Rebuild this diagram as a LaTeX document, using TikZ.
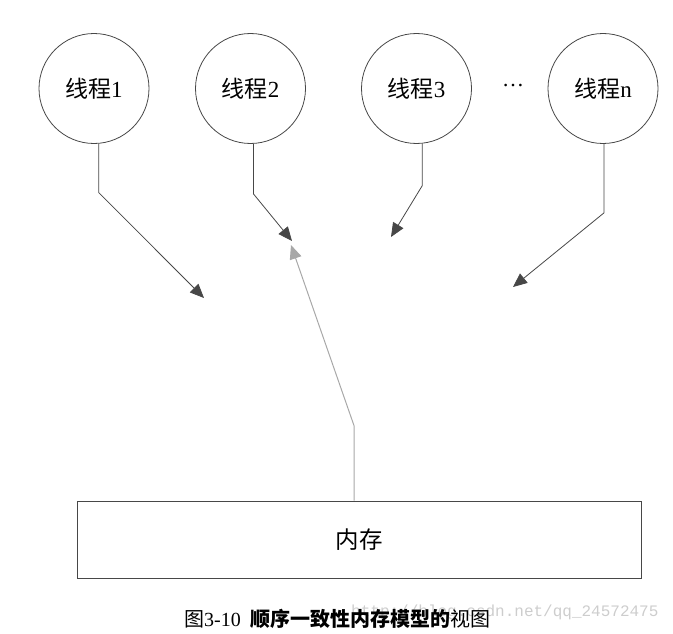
\documentclass[tikz,border=0pt]{standalone}
\usepackage{fontspec}
\setmainfont{Liberation Serif}
\setmonofont{Liberation Mono}
\newfontfamily\cjk{Noto Sans CJK SC}
\usetikzlibrary{arrows.meta}
\definecolor{linegray}{HTML}{474747}
\definecolor{memgray}{HTML}{A8A8A8}
\definecolor{markgray}{HTML}{CDCDCD}
\tikzstyle{thread}=[circle, draw=linegray, line width=0.8pt, minimum size=110pt, inner sep=0pt, font=\fontsize{23}{27}\selectfont]
\tikzstyle{memory}=[rectangle, draw=linegray, line width=0.8pt, minimum width=564pt, minimum height=77pt, font=\fontsize{23.5}{27}\selectfont]
\tikzstyle{access}=[draw=linegray, line width=0.8pt, -{Triangle[length=14pt, width=12pt]}]
\tikzstyle{reply}=[draw=memgray, line width=1pt, -{Triangle[length=14pt, width=12pt]}]

\begin{document}
\begin{tikzpicture}[x=1pt, y=-1pt]
\useasboundingbox (0,0) rectangle (673,634);
% Threads
    \node[thread] (t1) at (94,88.5) {{\cjk 线程}1};
    \node[thread] (t2) at (250.5,88.5) {{\cjk 线程}2};
    \node[thread] (t3) at (416.5,88.5) {{\cjk 线程}3};
    \node[font=\fontsize{22}{26}\selectfont] (dots) at (513,86) {…};
    \node[thread] (tn) at (603,88.5) {{\cjk 线程}n};
% Memory
    \node[memory] (mem) at (359,539.5) {\cjk 内存};
% Arrow tips
    \coordinate (e1) at (204,298);
    \coordinate (e2) at (292,241);
    \coordinate (e3) at (391,237);
    \coordinate (en) at (513,287);
    \coordinate (em) at (291,245);
% Threads to memory
    \draw[access] (t1.-85) -- ++(0,49) -- (e1);
    \draw[access] (t2.-87) -- ++(0,50) -- (e2);
    \draw[access] (t3.-84) -- ++(0,42) -- (e3);
    \draw[access] (tn.-89) -- ++(0,69) -- (en);
% Memory to thread 2
    \draw[reply] (mem.north) ++(-5,0) -- ++(0,-75) -- (em);
% Caption
    \node[anchor=east, text=markgray, font=\ttfamily\fontsize{16}{18}\selectfont] (mark) at (662,612) {http://blog.csdn.net/qq\_24572475};
    \node[font=\fontsize{20}{23}\selectfont] (caption) at (337.5,619) {{\cjk 图}3-10\enspace{\cjk\bfseries 顺序一致性内存模型的}{\cjk 视图}};
\end{tikzpicture}
\end{document}
